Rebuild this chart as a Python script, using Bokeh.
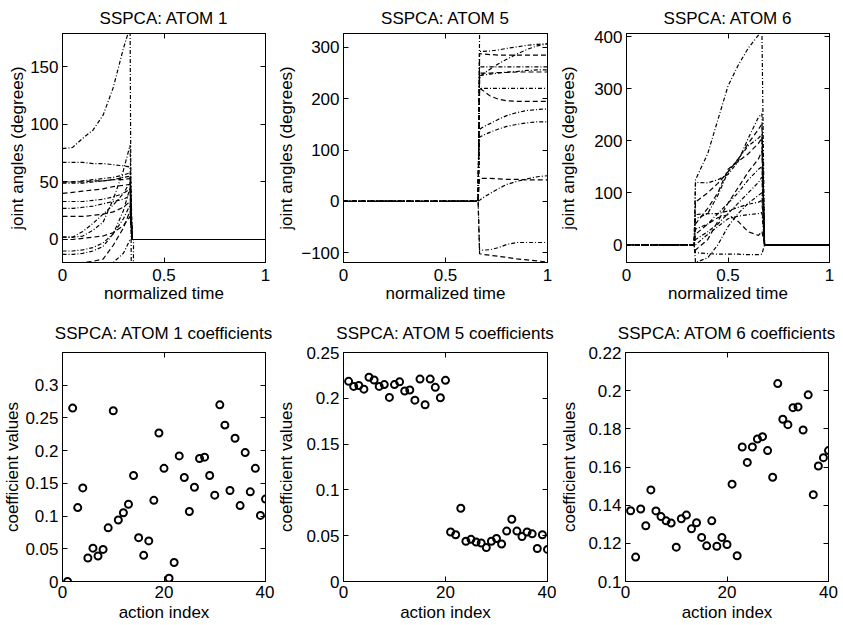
from bokeh.plotting import figure
from bokeh.layouts import row, column
from bokeh.models import FixedTicker, LinearAxis, CustomJSTickFormatter, Range1d
from bokeh.embed import file_html
from bokeh.resources import INLINE

FONT = "Liberation Sans"
FS = "17px"

# ---------------- data ----------------
# Atom 1 joint-angle curves (normalized time grid)
t_atom1 = [0, 0.05, 0.1, 0.15, 0.2, 0.25, 0.3, 0.333, 0.343, 0.35, 1.0]
atom1_curves = [
    [79, 80, 88, 95, 108, 132, 166, 185, -180, 0, 0],
    [67, 67, 67, 66, 66, 65, 64, 63, 0, 0, 0],
    [50, 50, 50, 51, 51, 52, 52, 53, 0, 0, 0],
    [50, 50, 51, 52, 53, 54, 56, 58, 0, 0, 0],
    [49, 49, 49, 50, 51, 52, 54, 55, 0, 0, 0],
    [40, 41, 42, 43, 44, 46, 47, 48, 0, 0, 0],
    [33, 33, 33, 34, 35, 37, 40, 44, 0, 0, 0],
    [27, 27, 28, 29, 31, 33, 35, 38, 0, 0, 0],
    [20, 20, 20, 21, 22, 24, 28, 33, 0, 0, 0],
    [2, 2, 7, 14, 22, 30, 40, 50, 0, 0, 0],
    [2, 2, 3, 8, 15, 35, 60, 82, 0, 0, 0],
    [0, 0, 1, 2, 3, 6, 12, 20, 0, 0, 0],
    [-10, -10, -9, -7, -3, 5, 18, 30, 0, 0, 0],
    [-13, -13, -12, -10, -6, 5, 25, 45, 0, 0, 0],
    [-20, -20, -20, -19, -17, -5, 10, 25, 0, 0, 0],
    [-20, -20, -20, -20, -20, -20, -12, 0, 0, 0, 0],
]

# Atom 5 joint-angle curves
t_atom5 = [0, 0.66, 0.667, 0.68, 0.72, 0.76, 0.8, 0.85, 0.9, 0.95, 1.0]
atom5_curves = [
    [0, 0, 327, 327, 327, 327, 327, 327, 327, 327, 327],
    [0, 0, 292, 292, 293, 295, 298, 301, 304, 306, 307],
    [0, 0, 288, 287, 286, 285, 285, 285, 285, 285, 285],
    [0, 0, 240, 247, 258, 268, 277, 287, 296, 303, 307],
    [0, 0, 262, 262, 262, 262, 262, 262, 262, 262, 262],
    [0, 0, 250, 250, 250, 251, 251, 252, 252, 252, 252],
    [0, 0, 245, 246, 248, 250, 252, 253, 255, 256, 256],
    [0, 0, 220, 220, 220, 220, 220, 220, 220, 220, 220],
    [0, 0, 220, 217, 205, 199, 196, 195, 195, 195, 195],
    [0, 0, 140, 144, 152, 160, 167, 173, 177, 179, 180],
    [0, 0, 125, 128, 135, 141, 146, 150, 153, 155, 155],
    [0, 0, 45, 45, 45, 44, 43, 43, 42, 42, 42],
    [0, 0, 2, 6, 16, 25, 33, 39, 44, 48, 50],
    [0, 0, -95, -95, -94, -90, -84, -80, -80, -80, -80],
    [0, 0, -102, -103, -105, -107, -109, -112, -114, -116, -118],
]

# Atom 6 joint-angle curves
t_atom6 = [0, 0.333, 0.34, 0.4, 0.45, 0.5, 0.55, 0.6, 0.65, 0.667, 0.68, 1.0]
atom6_curves = [
    [0, 0, 125, 175, 240, 305, 345, 378, 403, 415, 0, 0],
    [0, 0, 120, 119, 125, 135, 160, 205, 245, 252, 0, 0],
    [0, 0, 82, 100, 118, 140, 165, 195, 222, 232, 0, 0],
    [0, 0, 58, 60, 60, 65, 72, 78, 82, 85, 0, 0],
    [0, 0, 50, 60, 95, 140, 165, 190, 205, 212, 0, 0],
    [0, 0, 20, 40, 52, 58, 45, 25, 18, 26, 0, 0],
    [0, 0, -15, -17, -18, -18, -18, -19, -19, -18, 0, 0],
    [0, 0, -34, -25, 0, 35, 60, 80, 95, 100, 0, 0],
    [0, 0, -10, 10, 45, 80, 110, 140, 165, 180, 0, 0],
    [0, 0, 30, 40, 60, 80, 100, 125, 145, 150, 0, 0],
    [0, 0, 10, 25, 40, 60, 80, 100, 120, 130, 0, 0],
    [0, 0, 40, 70, 100, 145, 160, 175, 195, 205, 0, 0],
    [0, 0, 0, 20, 35, 50, 55, 58, 60, 62, 0, 0],
]

# Coefficients (action index 1..40)
action_index = list(range(1, 41))
coef_atom1 = [0.0, 0.265, 0.113, 0.143, 0.036, 0.051, 0.039, 0.049, 0.082, 0.261,
              0.094, 0.105, 0.118, 0.162, 0.067, 0.040, 0.062, 0.124, 0.227, 0.173,
              0.005, 0.029, 0.192, 0.159, 0.107, 0.144, 0.188, 0.190, 0.162, 0.132,
              0.270, 0.239, 0.139, 0.219, 0.116, 0.197, 0.137, 0.173, 0.101, 0.126]
coef_atom5 = [0.2185, 0.213, 0.214, 0.210, 0.223, 0.220, 0.213, 0.215, 0.201, 0.215,
              0.218, 0.208, 0.209, 0.198, 0.221, 0.193, 0.221, 0.212, 0.2006, 0.2196,
              0.054, 0.051, 0.080, 0.044, 0.046, 0.043, 0.042, 0.037, 0.044, 0.047,
              0.041, 0.055, 0.068, 0.055, 0.049, 0.054, 0.052, 0.036, 0.051, 0.035]
coef_atom6 = [0.1371, 0.1128, 0.138, 0.1292, 0.148, 0.137, 0.134, 0.1318, 0.1306, 0.118,
              0.1329, 0.1348, 0.1276, 0.1308, 0.1231, 0.1187, 0.1318, 0.1185, 0.1231, 0.1194,
              0.151, 0.1135, 0.1705, 0.1624, 0.1705, 0.1747, 0.1759, 0.1686, 0.1546, 0.2037,
              0.185, 0.1822, 0.1911, 0.1915, 0.1794, 0.1978, 0.1455, 0.1605, 0.1649, 0.1686]

titles_top = ["SSPCA: ATOM 1", "SSPCA: ATOM 5", "SSPCA: ATOM 6"]
titles_bot = ["SSPCA: ATOM 1 coefficients", "SSPCA: ATOM 5 coefficients", "SSPCA: ATOM 6 coefficients"]

xticks_time = [0, 0.5, 1]
xticks_index = [0, 20, 40]
yticks_atom1 = [0, 50, 100, 150]
yticks_atom5 = [-100, 0, 100, 200, 300]
yticks_atom6 = [0, 100, 200, 300, 400]
yticks_coef1 = [0, 0.05, 0.1, 0.15, 0.2, 0.25, 0.3]
yticks_coef5 = [0, 0.05, 0.1, 0.15, 0.2, 0.25]
yticks_coef6 = [0.1, 0.12, 0.14, 0.16, 0.18, 0.2, 0.22]

# ---------------- helpers ----------------
FMT = "return String(tick).replace('-', '\u2212');"
EMPTY = "return '';"


def make_fig(fw, fh, left, right, top, bottom, xr, yr, xticks, yticks,
             title, xlabel, ylabel, ylabel_standoff, title_standoff, xlab_standoff, xtick_standoff):
    p = figure(frame_width=fw, frame_height=fh, output_backend="svg", toolbar_location=None,
               x_range=Range1d(*xr), y_range=Range1d(*yr),
               min_border_left=left, min_border_right=right,
               min_border_top=top, min_border_bottom=bottom)
    p.title.text = title
    p.title.align = "center"
    p.title.text_font = FONT
    p.title.text_font_size = FS
    p.title.text_font_style = "normal"
    p.title.text_color = "black"
    p.title.standoff = title_standoff
    p.grid.visible = False
    p.outline_line_color = "black"
    p.outline_line_width = 1
    p.background_fill_color = "white"
    p.border_fill_color = "white"
    for ax, ticks in ((p.xaxis[0], xticks), (p.yaxis[0], yticks)):
        ax.ticker = FixedTicker(ticks=ticks, minor_ticks=[])
        ax.formatter = CustomJSTickFormatter(code=FMT)
        ax.major_tick_in = 5
        ax.major_tick_out = 0
        ax.minor_tick_line_color = None
        ax.axis_line_color = "black"
        ax.major_tick_line_color = "black"
        ax.major_label_text_font = FONT
        ax.major_label_text_font_size = FS
        ax.major_label_text_color = "black"
        ax.axis_label_text_font = FONT
        ax.axis_label_text_font_size = FS
        ax.axis_label_text_font_style = "normal"
        ax.axis_label_text_color = "black"
    p.xaxis[0].axis_label = xlabel
    p.yaxis[0].axis_label = ylabel
    p.xaxis[0].major_label_standoff = xtick_standoff
    p.xaxis[0].axis_label_standoff = xlab_standoff
    p.yaxis[0].major_label_standoff = 4
    p.yaxis[0].axis_label_standoff = ylabel_standoff
    # mirrored ticks on top and right (no labels)
    for loc, ticks in (("above", xticks), ("right", yticks)):
        ax = LinearAxis(ticker=FixedTicker(ticks=ticks, minor_ticks=[]),
                        formatter=CustomJSTickFormatter(code=EMPTY))
        ax.major_tick_in = 5
        ax.major_tick_out = 0
        ax.minor_tick_line_color = None
        ax.major_label_text_font_size = "1px"
        ax.major_label_standoff = 0
        ax.axis_line_color = "black"
        ax.major_tick_line_color = "black"
        p.add_layout(ax, loc)
    return p


DASHES = ["4 2 1 2", "4 2 1 2", "5 3"]


def add_curves(p, t, curves):
    for i, c in enumerate(curves):
        p.line(t, c, line_color="black", line_width=1.2, line_dash=DASHES[i % len(DASHES)])


def add_points(p, x, y):
    p.scatter(x, y, marker="circle", size=7, fill_color=None, line_color="black", line_width=2)


FW = [203, 204, 203]
LEFT = [62, 69, 69]
RIGHT = [9, 9, 14]

top_cfg = [
    ((0, 1), (-20, 179), yticks_atom1, atom1_curves, t_atom1, 0),
    ((0, 1), (-119, 327), yticks_atom5, atom5_curves, t_atom5, 2),
    ((0, 1), (-34, 406), yticks_atom6, atom6_curves, t_atom6, 13),
]
top_figs = []
for i, (xr, yr, yt, curves, t, ylst) in enumerate(top_cfg):
    p = make_fig(FW[i], 229, LEFT[i], RIGHT[i], 33, 50, xr, yr, xticks_time, yt,
                 titles_top[i], "normalized time", "joint angles (degrees)", ylst, 12, 0, 6)
    add_curves(p, t, curves)
    top_figs.append(p)

bot_cfg = [
    ((0, 40), (0, 0.35), yticks_coef1, coef_atom1, 0),
    ((0, 40), (0, 0.25), yticks_coef5, coef_atom5, 7),
    ((0, 40), (0.1, 0.22), yticks_coef6, coef_atom6, 6),
]
bot_figs = []
for i, (xr, yr, yt, coefs, ylst) in enumerate(bot_cfg):
    p = make_fig(FW[i], 229, LEFT[i], RIGHT[i], 40, 44, xr, yr, xticks_index, yt,
                 titles_bot[i], "action index", "coefficient values", ylst, 19, 2, 4)
    add_points(p, action_index, coefs)
    bot_figs.append(p)

layout = column(row(*top_figs, spacing=0), row(*bot_figs, spacing=0), spacing=0)

open("out.html", "w").write(file_html(layout, INLINE))
